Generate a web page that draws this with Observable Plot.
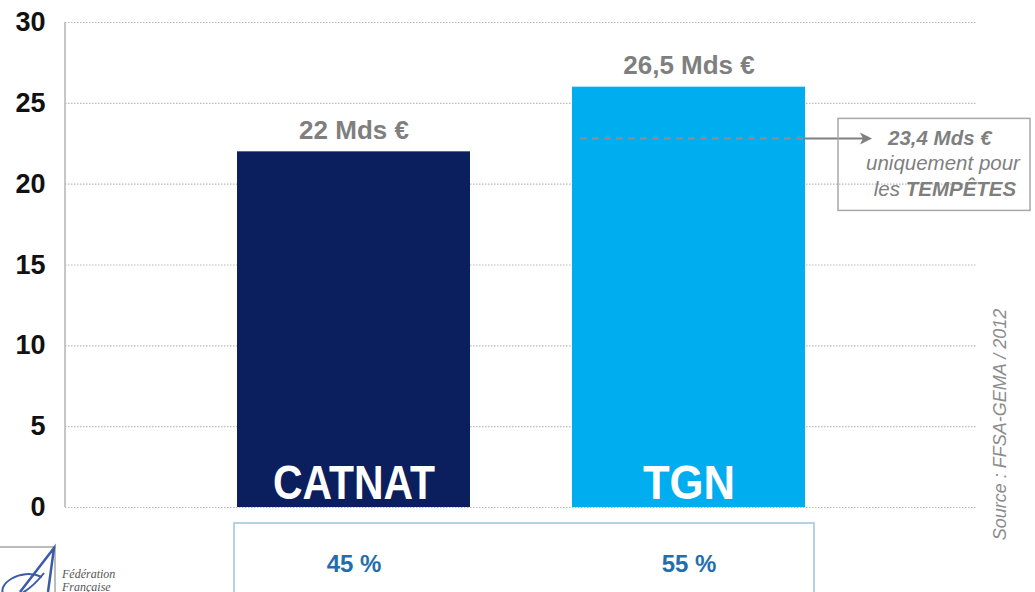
<!DOCTYPE html>
<html>
<head>
<meta charset="utf-8">
<script src="https://cdn.jsdelivr.net/npm/d3@7"></script>
<script src="https://cdn.jsdelivr.net/npm/@observablehq/plot@0.6"></script>
<style>
  html, body { margin: 0; padding: 0; background: #fff; }
  #chart svg { display: block; }
</style>
</head>
<body>
<div id="chart"></div>
<script>
// ---- data ----
const categories = ["CATNAT", "TGN"];
const amounts = [22, 26];                    // bar heights as drawn (Mds €)
const amountLabels = ["22 Mds €", "26,5 Mds €"];
const shares = ["45 %", "55 %"];
const barColors = ["#0b1f5e", "#00aeef"];
const yTicks = [0, 5, 10, 15, 20, 25, 30];
const stormValue = 22.8;                     // dashed line inside TGN bar
const stormAmount = "23,4 Mds €";
const stormLine2 = "uniquement pour";
const stormLine3a = "les ";
const stormLine3b = "TEMPÊTES";
const sourceText = "Source : FFSA-GEMA / 2012";
const logoLines = ["Fédération", "Française"];

const data = categories.map((c, i) => ({
  cat: c, value: amounts[i], label: amountLabels[i], share: shares[i], color: barColors[i]
}));

function annotations(index, scales, values, dimensions) {
  const x = scales.x, y = scales.y;
  const bw = x.bandwidth ? x.bandwidth() : 233;
  const xl = x("TGN"), xr = xl + bw, xc = x("CATNAT");
  const ys = y(stormValue), y0 = y(0), yTop = y(30);
  const g = d3.create("svg:g").attr("text-anchor", "start");

  // left axis line
  g.append("line").attr("x1", dimensions.marginLeft).attr("x2", dimensions.marginLeft)
    .attr("y1", yTop).attr("y2", y0).attr("stroke", "#b5b5b5").attr("stroke-width", 1.5);

  // storm dashed line inside the TGN bar
  g.append("line").attr("x1", xl + 8).attr("x2", xr).attr("y1", ys).attr("y2", ys)
    .attr("stroke", "#8a8f96").attr("stroke-width", 2).attr("stroke-dasharray", "7,5");
  // connector + arrow
  g.append("line").attr("x1", xr).attr("x2", xr + 58).attr("y1", ys).attr("y2", ys)
    .attr("stroke", "#808080").attr("stroke-width", 2);
  g.append("path")
    .attr("d", `M${xr + 67},${ys} L${xr + 55},${ys - 6} L${xr + 58},${ys} L${xr + 55},${ys + 6} Z`)
    .attr("fill", "#808080");
  // annotation box
  g.append("rect").attr("x", xr + 33).attr("y", ys - 20).attr("width", 192).attr("height", 92)
    .attr("fill", "none").attr("stroke", "#a8a8a8").attr("stroke-width", 1.5);
  const tcol = "#7f7f7f";
  g.append("text").attr("x", xr + 83).attr("y", ys + 7).attr("font-size", 20.5)
    .attr("font-weight", "bold").attr("font-style", "italic").attr("fill", tcol).text(stormAmount);
  g.append("text").attr("x", xr + 138).attr("y", ys + 32).attr("font-size", 20.5)
    .attr("text-anchor", "middle").attr("font-style", "italic").attr("fill", tcol).text(stormLine2);
  const t3 = g.append("text").attr("x", xr + 140).attr("y", ys + 58).attr("font-size", 20.5)
    .attr("text-anchor", "middle").attr("font-style", "italic").attr("fill", tcol);
  t3.append("tspan").text(stormLine3a);
  t3.append("tspan").attr("font-weight", "bold").text(stormLine3b);

  // percentage box
  g.append("rect").attr("x", xc - 3).attr("y", y0 + 16).attr("width", xr + 9 - (xc - 3)).attr("height", 90)
    .attr("fill", "none").attr("stroke", "#9cc3de").attr("stroke-width", 1.5);

  // source (vertical)
  g.append("text").attr("transform", `translate(${dimensions.width - 29},${(yTop + y0) / 2 + 160}) rotate(-90)`)
    .attr("text-anchor", "middle").attr("font-size", 18).attr("font-style", "italic")
    .attr("fill", "#8c8c8c").text(sourceText);

  // logo (bottom left)
  g.append("rect").attr("x", -2).attr("y", y0 + 40).attr("width", 57).attr("height", 70)
    .attr("fill", "none").attr("stroke", "#a6a6a6").attr("stroke-width", 1.5);
  g.append("path")
    .attr("d", `M20,${y0 + 85} L54,${y0 + 41} L48,${y0 + 85}`)
    .attr("fill", "none").attr("stroke", "#3b5aa8").attr("stroke-width", 2.5);
  g.append("path")
    .attr("d", `M42,${y0 + 70} C20,${y0 + 60} -4,${y0 + 78} 4,${y0 + 88} C10,${y0 + 96} 30,${y0 + 84} 44,${y0 + 66}`)
    .attr("fill", "none").attr("stroke", "#3b5aa8").attr("stroke-width", 2);
  logoLines.forEach((t, i) => {
    g.append("text").attr("x", 62).attr("y", y0 + 71 + i * 13).attr("font-size", 12)
      .attr("font-family", "Liberation Serif, serif").attr("font-style", "italic")
      .attr("fill", "#555").text(t);
  });
  return g.node();
}

const chart = Plot.plot({
  width: 1035,
  height: 592,
  marginLeft: 65,
  marginRight: 58,
  marginTop: 22,
  marginBottom: 85,
  style: { fontFamily: "Liberation Sans, Arial, sans-serif", background: "#fff", overflow: "visible" },
  x: { domain: categories, paddingInner: 0.305, paddingOuter: 0.51, align: 0.5, axis: null },
  y: { domain: [0, 30] },
  marks: [
    Plot.gridY(yTicks, { stroke: "#8c8c8c", strokeOpacity: 0.6, strokeDasharray: "1.5,1.5", strokeWidth: 1.2 }),
    Plot.barY(data, { x: "cat", y: "value", fill: "color" }),
    Plot.axisY(yTicks, { tickSize: 0, tickPadding: 20, fontSize: 27, fontWeight: "bold", fill: "#111", label: null }),
    Plot.text(data, { x: "cat", y: "value", text: "label", dy: -21, fontSize: 26, fontWeight: "bold", fill: "#7f7f7f" }),
    Plot.text(data, { x: "cat", y: 0, text: "cat", dy: -24, fontSize: 48, fontWeight: "bold", fill: "white" }),
    Plot.text(data, { x: "cat", y: 0, text: "share", dy: 57, fontSize: 24, fontWeight: "bold", fill: "#1f6fb0" }),
    annotations
  ]
});

// condense the in-bar category labels (the reference uses a narrow face)
const narrowWidth = { CATNAT: 162, TGN: 92 };
d3.select(chart).selectAll("text")
  .filter(function () { return categories.includes(this.textContent); })
  .attr("textLength", function () { return narrowWidth[this.textContent]; })
  .attr("lengthAdjust", "spacingAndGlyphs");

document.getElementById("chart").appendChild(chart);
</script>
</body>
</html>
